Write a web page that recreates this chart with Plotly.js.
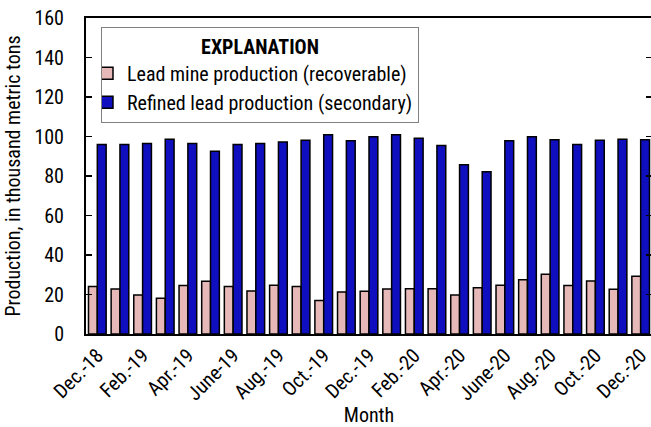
<!DOCTYPE html>
<html>
<head>
<meta charset="utf-8">
<script src="https://cdn.plot.ly/plotly-3.0.1.min.js"></script>
<style>
html, body { margin: 0; padding: 0; overflow: hidden; background: #fff; width: 651px; height: 427px; }
#chart { width: 660px; height: 427px; }
</style>
</head>
<body>
<div id="chart"></div>
<script>
const months = ["Dec.-18","Jan.-19","Feb.-19","Mar.-19","Apr.-19","May-19","June-19","July-19","Aug.-19","Sept.-19","Oct.-19","Nov.-19","Dec.-19","Jan.-20","Feb.-20","Mar.-20","Apr.-20","May-20","June-20","July-20","Aug.-20","Sept.-20","Oct.-20","Nov.-20","Dec.-20"];
const mineProduction = [24.0,22.8,19.7,18.1,24.5,26.7,24.0,21.8,24.7,24.0,16.9,21.3,21.6,22.8,22.9,22.9,19.7,23.4,24.7,27.5,30.2,24.5,26.8,22.6,29.2];
const refinedProduction = [96.0,96.0,96.4,98.6,96.4,92.5,96.0,96.4,97.2,98.1,100.9,97.9,99.9,100.9,99.1,95.5,85.7,82.2,97.9,99.9,98.4,96.0,98.1,98.6,98.4];
const tickLabels = ["Dec.-18","Feb.-19","Apr.-19","June-19","Aug.-19","Oct.-19","Dec.-19","Feb.-20","Apr.-20","June-20","Aug.-20","Oct.-20","Dec.-20"];

const FONT = "Liberation Sans Narrow, Arial Narrow, Roboto Condensed, Liberation Sans, Arial, sans-serif";

const traces = [
  { type: "bar", name: "Lead mine production (recoverable)", x: months, y: mineProduction,
    marker: { color: "#E6B9B8", line: { color: "#000", width: 1.5 } } },
  { type: "bar", name: "Refined lead production (secondary)", x: months, y: refinedProduction,
    marker: { color: "#0F0FC0", line: { color: "#000", width: 1.5 } } }
];

const layout = {
  width: 660, height: 427,
  margin: { l: 86, r: 8, t: 18, b: 93 },
  paper_bgcolor: "#fff", plot_bgcolor: "#fff",
  font: { family: FONT, size: 20, color: "#000" },
  barmode: "group", bargap: 0.22, bargroupgap: 0,
  showlegend: true,
  legend: {
    x: 0.0265, y: 0.972, xanchor: "left", yanchor: "top",
    bgcolor: "#fff", bordercolor: "#808080", borderwidth: 1,
    font: { family: FONT, size: 20, color: "#000" },
    title: { text: "<b>EXPLANATION</b>", side: "top center", font: { family: FONT, size: 20 } },
    indentation: -15, itemwidth: 30, tracegroupgap: 0
  },
  xaxis: {
    type: "category",
    showline: true, linecolor: "#000", linewidth: 2, mirror: true,
    ticks: "", showgrid: false, zeroline: false,
    tickvals: tickLabels, ticktext: tickLabels, tickangle: -45,
    tickfont: { family: FONT, size: 20 },
    title: { text: "Month", font: { family: FONT, size: 20 }, standoff: 13 },
    automargin: false
  },
  yaxis: {
    range: [0, 160], dtick: 20, tick0: 0,
    showline: true, linecolor: "#000", linewidth: 2, mirror: "ticks",
    ticks: "inside", ticklen: 6, tickwidth: 1.5, tickcolor: "#000",
    showgrid: false, zeroline: false,
    ticklabelstandoff: 16,
    tickfont: { family: FONT, size: 20 },
    title: { text: "Production, in thousand metric tons", font: { family: FONT, size: 20 }, standoff: 8 },
    automargin: false
  }
};

Plotly.newPlot("chart", traces, layout, { displayModeBar: false, staticPlot: true });
</script>
</body>
</html>
